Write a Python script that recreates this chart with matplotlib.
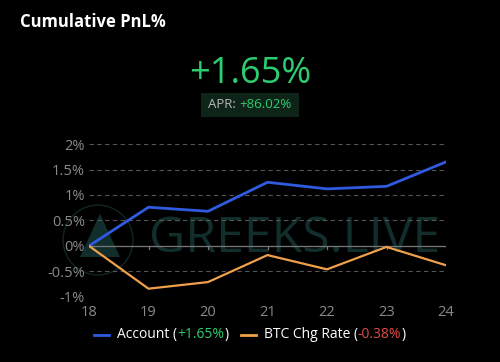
import matplotlib
matplotlib.use("Agg")
import matplotlib.pyplot as plt
from matplotlib.lines import Line2D
from matplotlib.patches import Rectangle, Ellipse, Polygon

days = [18, 19, 20, 21, 22, 23, 24]
account = [0.0, 0.76, 0.68, 1.25, 1.12, 1.17, 1.65]
btc = [0.0, -0.84, -0.71, -0.18, -0.46, -0.02, -0.38]
yticks = [-1, -0.5, 0, 0.5, 1, 1.5, 2]
ylabels = ["-1%", "-0.5%", "0%", "0.5%", "1%", "1.5%", "2%"]
pnl_text = "+1.65%"
apr_text = "+86.02%"
acc_last = "+1.65%"
btc_last = "-0.38%"

BG = "#000000"
BLUE = "#2f5be0"
ORANGE = "#f0a04b"
GREEN = "#2ecc71"
RED = "#e04a4a"
GREY = "#8a8a8a"

plt.rcParams["font.family"] = ["Open Sans", "DejaVu Sans"]

fig = plt.figure(figsize=(5, 3.62), dpi=100, facecolor=BG)
ax = fig.add_axes([0.178, 0.180, 0.714, 0.422], facecolor=BG)
r = fig.canvas.get_renderer()

# header
fig.text(0.04, 0.94, "Cumulative PnL%", color="white", fontsize=12,
         fontweight="bold", ha="left", va="center")
fig.text(0.5, 0.795, pnl_text, color=GREEN, fontsize=26, ha="center", va="center")

apr_l = fig.text(0, 0.71, "APR: ", color="#b8b8b8", fontsize=9.5, ha="left", va="center", zorder=4)
apr_v = fig.text(0, 0.71, apr_text, color=GREEN, fontsize=9.5, ha="left", va="center", zorder=4)
w1 = apr_l.get_window_extent(r).width / fig.bbox.width
w2 = apr_v.get_window_extent(r).width / fig.bbox.width
x0 = 0.5 - (w1 + w2) / 2
apr_l.set_x(x0)
apr_v.set_x(x0 + w1)
pad = 0.014
fig.add_artist(Rectangle((x0 - pad, 0.71 - 0.032), w1 + w2 + 2 * pad, 0.064,
                         transform=fig.transFigure, fc="#0f2418", ec="none", zorder=3))

# watermark
ax.text(0.575, 0.38, "GREEKS.LIVE", transform=ax.transAxes, color="#112e2c",
        fontsize=36, ha="center", va="center", zorder=0)
ax.add_patch(Ellipse((0.196, 0.337), 0.14, 0.193, transform=fig.transFigure, fc="none",
                     ec="#112626", lw=1, zorder=0, clip_on=False))
ax.add_patch(Polygon([[0.16, 0.29], [0.2, 0.41], [0.24, 0.29]], closed=True,
                     transform=fig.transFigure, fc="#112e2c", ec="none", zorder=0,
                     clip_on=False))

ax.plot(days, account, color=BLUE, lw=2, zorder=3)
ax.plot(days, btc, color=ORANGE, lw=1.6, zorder=3)

ax.set_xlim(days[0], days[-1])
ax.set_ylim(-1, 2)
ax.set_xticks(days)
ax.set_yticks(yticks)
ax.set_yticklabels(ylabels)
ax.grid(axis="y", color="#555555", ls=(0, (4, 3)), lw=0.8)
ax.axhline(0, color="#777777", lw=0.9, zorder=2)
for d in days[1:]:
    ax.plot([d, d], [0, -0.06], color="#777777", lw=0.9, zorder=2)
for s in ax.spines.values():
    s.set_visible(False)
ax.tick_params(colors=GREY, labelsize=10.5, length=0, pad=6)
ax.tick_params(axis="y", pad=3)

# legend with coloured values
pieces = [("line", BLUE), ("Account (", "white"), (acc_last, GREEN), (")", "white"),
          ("gap", None), ("line", ORANGE), ("BTC Chg Rate (", "white"),
          (btc_last, RED), (")", "white")]
y = 0.075
items = []
x = 0.0
for p, c in pieces:
    if p == "line":
        items.append(("line", x, c))
        x += 0.046
    elif p == "gap":
        x += 0.025
    else:
        t = fig.text(0, y, p, color=c, fontsize=10, ha="left", va="center")
        w = t.get_window_extent(r).width / fig.bbox.width
        items.append((t, x, c))
        x += w
start = 0.5 - x / 2
for item, xx, c in items:
    if item == "line":
        fig.add_artist(Line2D([start + xx, start + xx + 0.03], [y, y], color=c, lw=2,
                              transform=fig.transFigure))
    else:
        item.set_x(start + xx)

fig.savefig("out.png", dpi=100, facecolor=BG)
